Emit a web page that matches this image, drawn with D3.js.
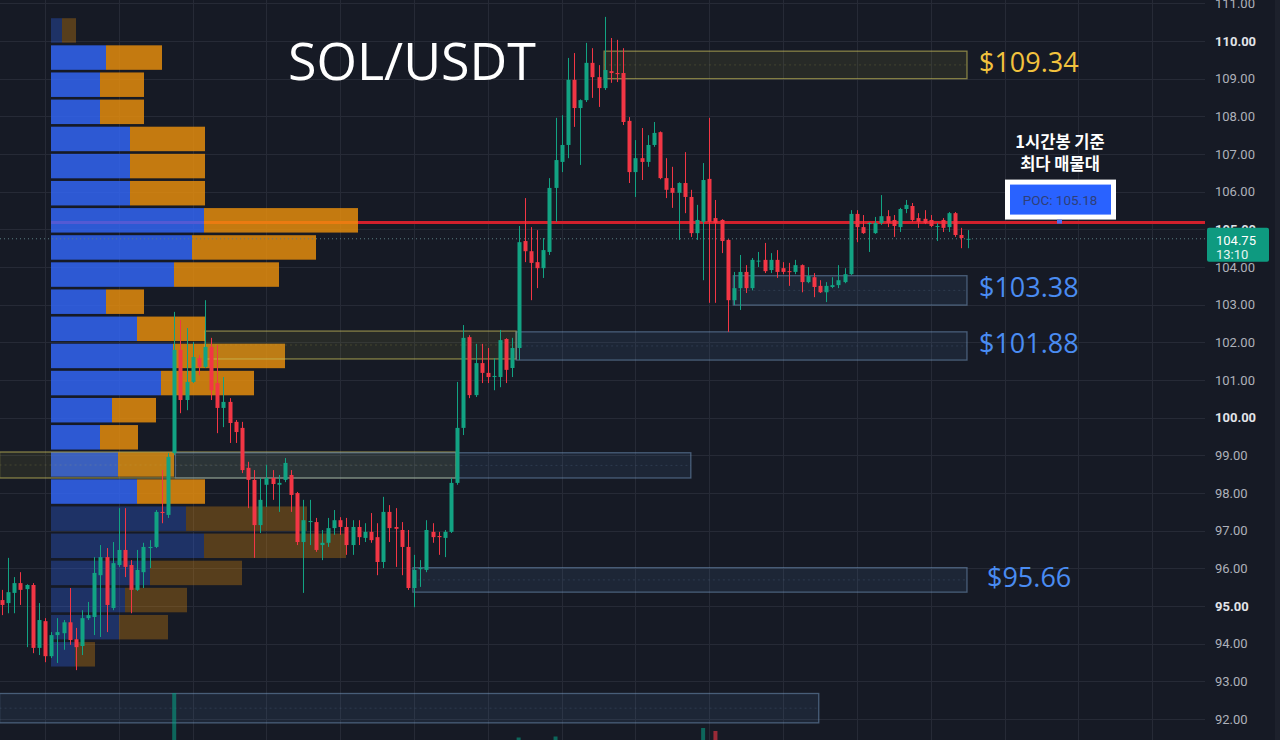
<!DOCTYPE html>
<html><head><meta charset="utf-8">
<script src="https://cdn.jsdelivr.net/npm/d3@7"></script>
<style>
html,body{margin:0;padding:0;background:#161a25;overflow:hidden}
svg{display:block}
</style></head><body>
<svg id="chart" width="1280" height="740"></svg>
<script>
// ---------------- DATA ----------------
const opens=[95.16,95.08,95.35,95.61,95.45,95.56,93.89,94.60,93.67,94.23,
94.28,94.57,94.12,93.94,94.68,94.71,95.82,96.30,94.95,96.09,
96.49,96.09,95.43,95.90,96.54,96.57,97.50,97.42,99.06,101.80,
100.47,100.95,101.58,101.35,101.88,100.92,100.26,100.42,99.89,99.73,
98.67,98.35,97.15,98.22,98.40,98.22,98.35,98.48,98.00,96.70,
97.23,97.23,96.62,96.68,97.07,97.28,97.10,96.62,97.10,96.81,
96.97,96.83,96.17,97.50,97.10,97.02,96.57,95.48,95.98,95.96,
96.97,96.86,96.81,96.97,98.27,99.73,102.14,100.60,101.45,101.19,
101.08,101.08,102.09,101.32,101.85,104.69,104.42,104.13,103.97,104.40,
106.10,106.79,107.24,108.97,108.22,108.43,109.42,109.04,108.75,109.20,
109.15,109.15,107.88,106.52,106.89,106.79,107.24,107.58,106.36,106.10,
105.97,106.23,105.86,104.90,105.20,106.34,105.30,105.25,104.72,103.12,
103.44,103.87,103.44,104.15,104.19,103.92,104.19,103.97,103.89,103.87,
104.05,103.60,103.73,103.50,103.33,103.47,103.52,103.60,103.81,105.41,
105.06,105.14,104.90,105.17,105.35,105.25,105.06,105.54,105.62,105.30,
105.28,105.25,105.08,105.25,105.06,105.43,104.85,104.73];
const highs=[95.43,96.28,95.77,95.90,95.58,95.61,95.08,94.68,94.31,94.68,
94.63,95.48,94.42,94.89,95.11,96.30,96.62,96.54,96.70,97.60,
97.60,96.22,96.49,96.68,96.75,97.55,98.61,99.06,102.81,102.59,
102.38,102.01,101.66,103.12,102.12,101.93,101.08,100.52,99.94,99.89,
98.83,98.61,98.40,98.75,98.61,98.48,98.93,98.61,98.03,97.82,
97.82,97.34,97.02,97.34,97.55,97.36,97.34,97.28,97.28,97.20,
97.47,97.20,97.90,97.68,97.60,97.23,97.02,96.36,96.22,97.28,
97.20,96.97,97.02,98.40,100.95,102.46,102.19,101.96,101.96,101.85,
101.58,102.33,102.11,102.12,105.09,105.83,105.06,104.98,104.77,106.36,
107.96,108.03,109.55,109.68,108.45,109.95,109.81,109.36,110.64,110.08,
110.03,109.81,107.98,107.37,107.69,107.50,107.85,107.60,106.89,106.66,
106.25,107.05,106.05,105.65,106.76,107.96,105.78,105.27,104.74,103.87,
104.32,104.05,104.24,104.40,104.64,104.37,104.45,104.13,104.11,104.19,
104.07,104.00,103.84,103.65,103.60,103.73,104.05,103.97,105.51,105.51,
105.38,105.19,105.33,105.91,105.51,105.38,105.57,105.78,105.70,105.43,
105.51,105.38,105.17,105.30,105.46,105.46,105.04,104.98];
const lows=[94.76,94.81,94.81,95.03,93.91,93.75,93.70,93.51,93.62,93.49,
93.84,93.97,93.30,93.70,94.63,94.23,94.18,94.31,94.89,96.04,
95.77,94.81,95.40,95.48,96.01,96.54,97.20,97.34,99.01,100.12,
100.20,100.92,101.13,101.32,100.47,99.59,99.75,99.33,99.33,98.53,
97.60,96.28,96.94,97.63,97.82,97.50,98.29,97.50,96.62,95.35,
96.62,96.44,96.22,96.57,96.89,96.89,96.36,96.36,96.62,96.70,
96.68,95.82,96.01,96.70,96.04,95.82,95.43,94.97,95.51,95.90,
96.68,96.36,96.30,96.94,98.22,99.54,100.52,100.55,100.92,100.92,
100.73,100.81,100.92,101.08,101.53,104.13,103.12,103.44,103.71,104.32,
105.20,106.52,106.89,107.72,106.71,108.38,108.49,108.25,108.70,108.89,
108.91,107.77,106.23,105.86,106.31,106.66,107.19,106.33,105.83,105.57,
104.72,105.43,104.80,104.72,103.65,103.05,103.05,104.37,102.28,102.99,
102.86,103.31,103.38,104.00,103.84,103.84,103.71,103.81,103.50,103.81,
103.33,103.57,103.20,103.31,103.07,103.44,103.44,103.57,103.79,104.66,
104.88,104.40,104.88,105.12,105.06,104.80,104.93,105.43,105.20,105.04,
105.14,105.06,104.69,104.93,104.93,104.80,104.50,104.50];
const closes=[95.03,95.37,95.61,95.43,95.56,93.89,94.63,93.67,94.23,94.31,
94.57,94.10,93.91,94.68,94.76,95.88,96.30,95.03,96.14,96.49,
96.04,95.43,95.96,96.57,96.57,97.50,97.47,98.96,101.80,100.47,
100.95,101.61,101.35,101.88,100.73,100.26,100.42,99.86,99.62,98.61,
98.35,97.15,97.82,98.40,98.24,98.27,98.80,97.95,96.70,97.28,
97.26,96.49,96.68,97.07,97.28,97.10,96.62,97.10,96.83,96.97,
96.75,96.17,97.50,97.07,97.05,96.57,95.48,95.96,96.01,97.02,
96.83,96.83,96.97,98.27,99.73,102.12,100.60,101.45,101.19,101.08,
101.11,102.06,101.27,101.85,104.66,104.42,104.11,103.97,104.45,106.10,
106.84,107.24,108.97,108.22,108.43,109.42,109.04,108.75,109.23,109.15,
109.12,107.85,106.52,106.89,106.79,107.24,107.56,106.36,106.05,105.97,
106.23,105.86,104.90,105.25,106.31,105.20,105.17,104.69,103.12,103.44,
103.87,103.44,104.19,104.17,103.89,104.19,103.87,103.87,103.87,104.05,
103.60,103.76,103.47,103.33,103.50,103.52,103.65,103.81,105.41,105.06,
104.90,105.17,105.17,105.35,105.17,105.09,105.54,105.65,105.25,105.20,
105.17,105.09,105.09,105.04,105.43,104.85,104.77,104.75];

// volume spikes that reach into view (candle index, volume)
const volIndex=[28,84,90,114,116];
const volValues=[470,25,35,120,90];

// price axis
const priceTicks=[92,93,94,95,96,97,98,99,100,101,102,103,104,105,106,107,108,109,110,111];
const boldTicks=[95,100,105,110];
const gridCandles=[7,19,31,43,55,67,79,91,103,115,127,139,151,163,175,187];

// volume profile (row centre price, buy volume, sell volume, inside value area)
const profileLevels=[110.28,109.56,108.84,108.12,107.40,106.68,105.96,105.24,104.52,103.80,103.08,102.36,
101.64,100.92,100.20,99.48,98.76,98.04,97.32,96.60,95.88,95.16,94.44,93.72];
const profileBuy=[11,55,49,49,79,79,79,153,141,123,55,86,122,110,61,49,67,86,135,153,99,74,68,24];
const profileSell=[14,56,44,44,75,75,75,154,124,105,38,68,112,93,44,38,56,68,121,142,92,62,49,20];
const profileInValue=[0,1,1,1,1,1,1,1,1,1,1,1,1,1,1,1,1,1,0,0,0,0,0,0];

// supply / demand zones
const zoneTop=[109.73,103.77,102.30,102.28,99.09,99.07,96.02,92.68];
const zoneBottom=[109.00,102.99,101.56,101.53,98.40,98.40,95.37,91.90];
const zoneStart=[97.9,118.9,33.0,83.6,-0.4,28.2,66.8,-0.4];
const zoneEnd=[156.9,156.9,83.6,156.9,73.8,112.0,156.9,132.8];
const zoneKind=["yellow","blue","yellow","blue","yellow","blue","blue","blue"];
const zoneLabel=[109.34,103.38,null,101.88,null,null,95.66,null];

const pocPrice=105.18;
const lastPrice=104.75;
const countdown="13:10";
const title="SOL/USDT";
const noteLines=["1시간봉 기준","최다 매물대"];

// ---------------- DRAW ----------------
const W=1280,H=740,plotRight=1205;
const svg=d3.select("#chart");
const x=d3.scaleLinear().domain([0,157]).range([2,967.6]);
const y=d3.scaleLinear().domain([92,110]).range([719.1,41]);
const vy=d3.scaleLinear().domain([0,500]).range([740,690]);
const px=d3.scaleLinear().domain([0,300]).range([51,351]);

svg.append("rect").attr("width",W).attr("height",H).attr("fill","#161a25");

// grid
const grid=svg.append("g");
grid.selectAll("line.h").data(priceTicks).join("line")
 .attr("x1",0).attr("x2",plotRight).attr("y1",d=>Math.round(y(d))+0.5).attr("y2",d=>Math.round(y(d))+0.5)
 .attr("stroke","#262a36").attr("stroke-width",1);
grid.selectAll("line.v").data(gridCandles).join("line")
 .attr("y1",0).attr("y2",H).attr("x1",d=>Math.round(x(d))+0.5).attr("x2",d=>Math.round(x(d))+0.5)
 .attr("stroke","#262a36").attr("stroke-width",1);

// POC line
svg.append("line").attr("x1",51).attr("x2",plotRight).attr("y1",y(pocPrice)).attr("y2",y(pocPrice))
 .attr("stroke","#d2202c").attr("stroke-width",3);

// volume profile
const rowH=y(0)-y(0.65);
const prof=svg.append("g");
profileLevels.forEach((p,i)=>{
  const op=profileInValue[i]?0.8:0.3;
  const yt=y(p)-rowH/2;
  prof.append("rect").attr("x",px(0)).attr("y",yt).attr("width",px(profileBuy[i])-px(0)).attr("height",rowH)
   .attr("fill","#3369ff").attr("opacity",op);
  prof.append("rect").attr("x",px(profileBuy[i])).attr("y",yt).attr("width",px(profileBuy[i]+profileSell[i])-px(profileBuy[i])).attr("height",rowH)
   .attr("fill","#f0920b").attr("opacity",op);
});

// zones
const zg=svg.append("g");
zoneTop.forEach((t,i)=>{
  const yellow=zoneKind[i]==="yellow";
  const x0=x(zoneStart[i]),x1=x(zoneEnd[i]);
  const y0=y(t),y1=y(zoneBottom[i]);
  zg.append("rect").attr("x",x0).attr("y",y0).attr("width",x1-x0).attr("height",y1-y0)
   .attr("fill",yellow?"rgba(150,145,60,0.14)":"rgba(80,120,170,0.13)")
   .attr("stroke",yellow?"rgba(200,190,90,0.6)":"rgba(120,155,195,0.5)").attr("stroke-width",1.3);
  zg.append("line").attr("x1",x0).attr("x2",x1).attr("y1",(y0+y1)/2).attr("y2",(y0+y1)/2)
   .attr("stroke",yellow?"rgba(200,190,90,0.18)":"rgba(120,155,195,0.18)").attr("stroke-dasharray","2,3");
  if(zoneLabel[i]!==null){
    const dx=zoneLabel[i]<100?20:12;
    zg.append("text").attr("x",x1+dx).attr("y",y((t+zoneBottom[i])/2)).attr("dy","0.26em")
     .attr("font-family","Open Sans, Noto Sans, sans-serif").attr("font-size",27)
     .attr("fill",yellow?"#f2c23e":"#4a8cf2").text("$"+zoneLabel[i].toFixed(2));
  }
});

// last price dotted line
svg.append("line").attr("x1",0).attr("x2",plotRight).attr("y1",y(lastPrice)).attr("y2",y(lastPrice))
 .attr("stroke","#5b7c82").attr("stroke-width",1).attr("stroke-dasharray","1,3");

// volume bars
svg.append("g").selectAll("rect").data(volIndex).join("rect")
 .attr("x",d=>x(d)-2).attr("width",4)
 .attr("y",(d,i)=>vy(volValues[i])).attr("height",(d,i)=>vy(0)-vy(volValues[i]))
 .attr("fill",d=>closes[d]>=opens[d]?"rgba(8,153,129,0.6)":"rgba(242,54,69,0.6)");

// candles
const up="#12a383",dn="#f23645";
const cg=svg.append("g");
const idx=d3.range(opens.length);
cg.selectAll("line").data(idx).join("line")
 .attr("x1",i=>Math.round(x(i))+0.5).attr("x2",i=>Math.round(x(i))+0.5)
 .attr("y1",i=>y(highs[i])).attr("y2",i=>y(lows[i]))
 .attr("stroke",i=>closes[i]>=opens[i]?up:dn).attr("stroke-width",1);
cg.selectAll("rect").data(idx).join("rect")
 .attr("x",i=>Math.round(x(i))-1.5).attr("width",4)
 .attr("y",i=>y(Math.max(opens[i],closes[i])))
 .attr("height",i=>Math.max(1,Math.abs(y(opens[i])-y(closes[i]))))
 .attr("fill",i=>closes[i]>=opens[i]?up:dn);

// title
svg.append("text").attr("x",288).attr("y",80).attr("font-family","Open Sans, Noto Sans, sans-serif")
 .attr("font-size",52).attr("fill","#ffffff").text(title);

// annotation
noteLines.forEach((t,i)=>{
  svg.append("text").attr("x",1060).attr("y",148+i*22).attr("text-anchor","middle")
   .attr("font-family","Noto Sans CJK KR, sans-serif").attr("font-weight",700).attr("font-size",16.5)
   .attr("fill","#ffffff").text(t);
});
// POC box
const pocY=y(pocPrice);
svg.append("rect").attr("x",1005).attr("y",pocY-43).attr("width",111).attr("height",40).attr("fill","#ffffff");
svg.append("rect").attr("x",1010).attr("y",pocY-38).attr("width",101).attr("height",30).attr("fill","#2962ff");
svg.append("text").attr("x",1060).attr("y",pocY-18).attr("text-anchor","middle")
 .attr("font-family","Roboto, sans-serif").attr("font-size",13.5).attr("fill","#2f3f78").text("POC: "+pocPrice.toFixed(2));
svg.append("rect").attr("x",1057).attr("y",pocY-3).attr("width",5).attr("height",4).attr("fill","#4d6ef5");

// price axis
const ax=svg.append("g").attr("transform",`translate(${plotRight+10},0)`)
 .call(d3.axisRight(y).tickValues(priceTicks).tickSize(0).tickPadding(0).tickFormat(d3.format(".2f")));
ax.select(".domain").remove();
ax.selectAll("text").attr("font-family","Roboto, Inter, sans-serif").attr("font-size",13)
 .attr("fill",d=>boldTicks.includes(d)?"#e2e4e9":"#aeb1ba")
 .attr("font-weight",d=>boldTicks.includes(d)?700:400)
 .attr("text-anchor","start");

// last price label
const ly=y(lastPrice);
svg.append("rect").attr("x",1207).attr("y",ly-11).attr("width",62).attr("height",34).attr("rx",2).attr("fill","#0e9a80");
svg.append("text").attr("x",1216).attr("y",ly+6).attr("font-family","Roboto, sans-serif").attr("font-size",13)
 .attr("fill","#ffffff").text(lastPrice.toFixed(2));
svg.append("text").attr("x",1216).attr("y",ly+20).attr("font-family","Roboto, sans-serif").attr("font-size",13)
 .attr("fill","#e6f5f1").text(countdown);

svg.append("rect").attr("x",1275).attr("y",0).attr("width",5).attr("height",H).attr("fill","#1d212c");
</script>
</body></html>
